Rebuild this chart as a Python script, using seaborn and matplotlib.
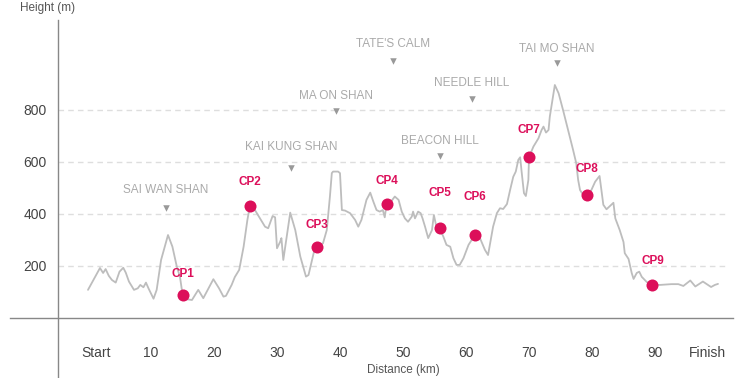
import matplotlib
matplotlib.use('Agg')
import matplotlib.pyplot as plt
import matplotlib.transforms as mtransforms
import pandas as pd
import seaborn as sns

# elevation profile (km, m)
dist_km = [0.0, 1.9, 2.4, 2.8, 3.3, 3.8, 4.4, 5.0, 5.6, 6.0, 6.5, 7.3, 7.9, 8.3, 8.8, 9.2,
           9.6, 10.4, 10.9, 11.6, 12.7, 13.4, 14.1, 14.6, 14.9, 15.1, 15.7, 16.5, 17.5, 18.3,
           19.9, 20.8, 21.5, 21.9, 22.8, 23.3, 24.0, 24.7, 25.3, 25.7, 26.5, 28.1, 28.6, 29.3,
           29.7, 30.0, 30.5, 30.7, 31.0, 32.1, 32.9, 33.7, 34.6, 35.0, 36.0, 36.3, 37.3, 37.9,
           38.4, 38.7, 38.9, 39.7, 40.0, 40.3, 40.8, 41.6, 42.4, 42.9, 43.4, 44.2, 44.8, 45.3,
           45.8, 46.3, 46.8, 47.1, 47.4, 47.9, 48.7, 49.3, 49.8, 50.3, 50.8, 51.4, 51.6, 51.9,
           52.4, 52.8, 53.1, 53.5, 54.0, 54.6, 54.9, 55.3, 55.8, 56.4, 56.9, 57.5, 58.0, 58.5,
           59.0, 59.6, 60.4, 61.4, 62.2, 63.0, 63.5, 64.3, 64.9, 65.4, 65.9, 66.5, 67.0, 67.5,
           67.9, 68.3, 68.6, 68.8, 69.2, 69.5, 69.9, 70.0, 70.7, 71.5, 72.0, 72.3, 72.7, 73.1,
           73.3, 73.8, 74.1, 74.7, 75.4, 76.2, 77.0, 77.5, 77.8, 78.1, 78.6, 79.2, 79.9, 80.5,
           81.2, 81.8, 82.3, 83.4, 83.7, 84.4, 85.0, 85.2, 85.8, 86.3, 86.6, 87.1, 87.5, 87.9,
           88.7, 89.6, 90.8, 92.6, 93.7, 94.5, 95.6, 96.4, 97.6, 98.9, 99.5, 100.0]
height_m = [108, 192, 173, 188, 162, 146, 136, 178, 193, 174, 140, 108, 114, 127, 118, 136,
            114, 74, 108, 223, 319, 274, 197, 158, 108, 88, 72, 69, 108, 76,
            149, 114, 82, 85, 127, 157, 185, 274, 377, 431, 415, 351, 345, 392,
            387, 268, 293, 307, 223, 405, 338, 236, 159, 165, 268, 274, 287, 338,
            467, 557, 563, 563, 557, 415, 413, 403, 377, 351, 377, 454, 482, 447,
            415, 409, 415, 387, 438, 441, 467, 454, 409, 383, 370, 390, 409, 383,
            409, 403, 383, 351, 307, 338, 396, 351, 346, 313, 281, 274, 230, 204,
            204, 230, 281, 319, 308, 262, 242, 351, 403, 422, 419, 438, 492, 543,
            563, 608, 618, 569, 480, 469, 531, 618, 659, 691, 723, 736, 713, 723,
            774, 851, 896, 864, 800, 723, 646, 595, 531, 492, 473, 473, 492, 524,
            546, 435, 418, 443, 383, 338, 292, 249, 227, 173, 150, 173, 178, 158,
            138, 127, 127, 130, 130, 123, 144, 121, 140, 119, 127, 131]

cp_names = ['CP1', 'CP2', 'CP3', 'CP4', 'CP5', 'CP6', 'CP7', 'CP8', 'CP9']
cp_km = [15.1, 25.7, 36.3, 47.4, 55.8, 61.4, 70.0, 79.2, 89.6]
cp_m = [88, 431, 274, 438, 346, 319, 618, 473, 127]

peak_names = ['SAI WAN SHAN', 'KAI KUNG SHAN', 'MA ON SHAN', "TATE'S CALM",
              'BEACON HILL', 'NEEDLE HILL', 'TAI MO SHAN']
peak_km = [12.4, 32.2, 39.4, 48.4, 55.9, 60.95, 74.4]
peak_m = [423, 577, 796, 988, 623, 842, 981]

xtick_pos = [0, 10, 20, 30, 40, 50, 60, 70, 80, 90, 100]
xtick_labels = ['Start', '10', '20', '30', '40', '50', '60', '70', '80', '90', 'Finish']
ytick_pos = [200, 400, 600, 800]

# label offsets above markers, in pixels
cp_dy = [21, 24, 22, 23, 35, 38, 27, 26, 24]
peak_dy = [18, 21, 15, 17, 15, 16, 14]

crimson = '#dc0f5a'

sns.set_style('white')
plt.rcParams['font.family'] = ['Liberation Sans', 'DejaVu Sans']

fig = plt.figure(figsize=(7.42, 3.78), dpi=100)
ax = fig.add_axes([10 / 742, 0, 723 / 742, 358 / 378])

ax.hlines(ytick_pos, -4.76, 101.4, colors='#dedede', linestyles=(0, (4, 3)),
          linewidth=1, zorder=0)

profile = pd.DataFrame({'km': dist_km, 'm': height_m})
sns.lineplot(data=profile, x='km', y='m', color='#bdbdbd', linewidth=1.3,
             estimator=None, sort=False, ax=ax)

sns.scatterplot(x=peak_km, y=peak_m, marker='v', s=22, color='#999999',
                linewidth=0, ax=ax)
for name, x, y, dy in zip(peak_names, peak_km, peak_m, peak_dy):
    ax.annotate(name, (x, y), xytext=(0, dy * 0.72), textcoords='offset points',
                ha='center', va='center', fontsize=8.5, color='#aaaaaa')

sns.scatterplot(x=cp_km, y=cp_m, s=75, color=crimson, linewidth=0, zorder=5, ax=ax)
for name, x, y, dy in zip(cp_names, cp_km, cp_m, cp_dy):
    ax.annotate(name, (x, y), xytext=(0, dy * 0.72), textcoords='offset points',
                ha='center', va='center', fontsize=8.5, fontweight='bold', color=crimson)

ax.set_xlim(-12.38, 102.38)
ax.set_ylim(-231, 1146)
ax.spines['left'].set_position(('data', -4.76))
ax.spines['bottom'].set_position(('data', 0))
for s in ['left', 'bottom']:
    ax.spines[s].set_color('#888888')
    ax.spines[s].set_linewidth(1)
ax.spines['top'].set_visible(False)
ax.spines['right'].set_visible(False)

ax.set_xticks(xtick_pos, xtick_labels)
ax.set_yticks(ytick_pos)
ax.tick_params(axis='x', direction='out', length=6, width=1, color='#333333',
               pad=14, labelsize=10, labelcolor='#444444')
ax.tick_params(axis='y', length=0, pad=8, labelsize=10, labelcolor='#444444')
ax.set_xlabel('')
ax.set_ylabel('')

labels = ax.get_xticklabels()
labels[0].set_transform(labels[0].get_transform() +
                        mtransforms.ScaledTranslation(8 / 100, 0, fig.dpi_scale_trans))
labels[-1].set_transform(labels[-1].get_transform() +
                         mtransforms.ScaledTranslation(-11 / 100, 0, fig.dpi_scale_trans))

fig.text(48 / 742, 1 - 8 / 378, 'Height (m)', ha='center', va='center',
         fontsize=8.5, color='#555555')
fig.text(403 / 742, 1 - 370 / 378, 'Distance (km)', ha='center', va='center',
         fontsize=8.5, color='#555555')

fig.savefig('out.png', dpi=100)
